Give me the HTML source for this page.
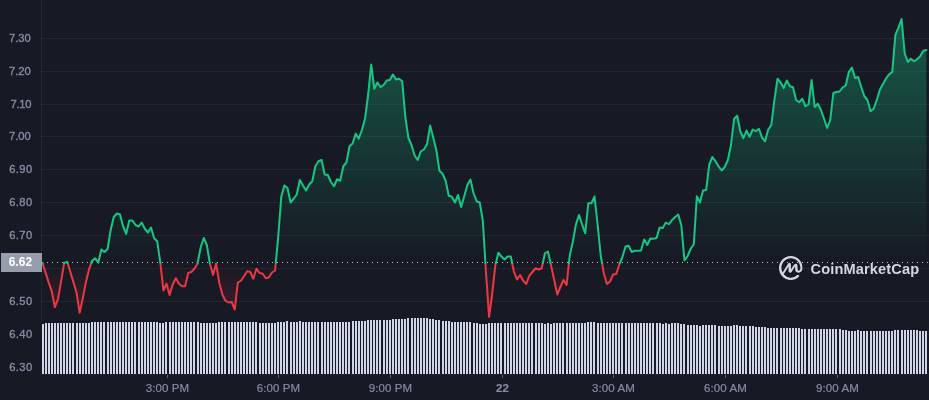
<!DOCTYPE html>
<html lang="en"><head><meta charset="utf-8"><title>Chart</title>
<style>
html,body{margin:0;padding:0;background:#171924;}
body{width:929px;height:400px;overflow:hidden;font-family:"Liberation Sans",Arial,sans-serif;}
svg{display:block}
.yl text{font-size:11.2px;fill:#858ca2;stroke:#858ca2;stroke-width:.35px}
.xl text{font-size:11.5px;fill:#858ca2;stroke:#858ca2;stroke-width:.2px;letter-spacing:.1px}
</style></head><body>
<svg width="929" height="400" viewBox="0 0 929 400" font-family="Liberation Sans, Arial, sans-serif">
<defs>
<linearGradient id="ls" gradientUnits="userSpaceOnUse" x1="0" y1="0" x2="0" y2="400">
<stop offset="0.66000" stop-color="#16c784"/><stop offset="0.66000" stop-color="#ea3943"/>
</linearGradient>
<linearGradient id="af" gradientUnits="userSpaceOnUse" x1="0" y1="0" x2="0" y2="322">
<stop offset="0" stop-color="#16c784" stop-opacity="0.40"/>
<stop offset="0.81522" stop-color="#16c784" stop-opacity="0"/>
<stop offset="0.81522" stop-color="#ea3943" stop-opacity="0"/>
<stop offset="1" stop-color="#ea3943" stop-opacity="0.20"/>
</linearGradient>
</defs>
<rect width="929" height="400" fill="#171924"/>
<path d="M42 324h2V374h-2zM45 323h2V374h-2zM48 323h2V374h-2zM51 323h2V374h-2zM54 323h2V374h-2zM57 323h2V374h-2zM60 323h2V374h-2zM63 323h2V374h-2zM66 323h2V374h-2zM69 323h2V374h-2zM72 323h2V374h-2zM76 323h2V374h-2zM79 323h2V374h-2zM82 323h2V374h-2zM85 323h2V374h-2zM88 323h2V374h-2zM91 322h2V374h-2zM94 322h2V374h-2zM97 322h2V374h-2zM100 322h2V374h-2zM103 322h2V374h-2zM107 322h2V374h-2zM110 322h2V374h-2zM113 322h2V374h-2zM116 322h2V374h-2zM119 322h2V374h-2zM122 322h2V374h-2zM125 322h2V374h-2zM128 322h2V374h-2zM131 322h2V374h-2zM134 322h2V374h-2zM138 322h2V374h-2zM141 322h2V374h-2zM144 322h2V374h-2zM147 322h2V374h-2zM150 322h2V374h-2zM153 322h2V374h-2zM156 322h2V374h-2zM159 323h2V374h-2zM162 323h2V374h-2zM165 322h2V374h-2zM169 322h2V374h-2zM172 322h2V374h-2zM175 322h2V374h-2zM178 322h2V374h-2zM181 322h2V374h-2zM184 322h2V374h-2zM187 322h2V374h-2zM190 322h2V374h-2zM193 322h2V374h-2zM197 322h2V374h-2zM200 323h2V374h-2zM203 323h2V374h-2zM206 323h2V374h-2zM209 323h2V374h-2zM212 323h2V374h-2zM215 323h2V374h-2zM218 322h2V374h-2zM221 322h2V374h-2zM224 322h2V374h-2zM228 322h2V374h-2zM231 322h2V374h-2zM234 322h2V374h-2zM237 322h2V374h-2zM240 322h2V374h-2zM243 322h2V374h-2zM246 322h2V374h-2zM249 322h2V374h-2zM252 322h2V374h-2zM255 322h2V374h-2zM259 323h2V374h-2zM262 323h2V374h-2zM265 323h2V374h-2zM268 323h2V374h-2zM271 323h2V374h-2zM274 323h2V374h-2zM277 322h2V374h-2zM280 322h2V374h-2zM283 322h2V374h-2zM286 321h2V374h-2zM290 322h2V374h-2zM293 322h2V374h-2zM296 322h2V374h-2zM299 321h2V374h-2zM302 322h2V374h-2zM305 322h2V374h-2zM308 322h2V374h-2zM311 322h2V374h-2zM314 322h2V374h-2zM317 322h2V374h-2zM321 322h2V374h-2zM324 322h2V374h-2zM327 322h2V374h-2zM330 322h2V374h-2zM333 322h2V374h-2zM336 322h2V374h-2zM339 322h2V374h-2zM342 322h2V374h-2zM345 322h2V374h-2zM348 322h2V374h-2zM352 321h2V374h-2zM355 321h2V374h-2zM358 321h2V374h-2zM361 321h2V374h-2zM364 321h2V374h-2zM367 320h2V374h-2zM370 320h2V374h-2zM373 320h2V374h-2zM376 320h2V374h-2zM379 320h2V374h-2zM383 320h2V374h-2zM386 320h2V374h-2zM389 320h2V374h-2zM392 319h2V374h-2zM395 319h2V374h-2zM398 319h2V374h-2zM401 319h2V374h-2zM404 319h2V374h-2zM407 318h2V374h-2zM411 318h2V374h-2zM414 318h2V374h-2zM417 318h2V374h-2zM420 318h2V374h-2zM423 318h2V374h-2zM426 318h2V374h-2zM429 319h2V374h-2zM432 319h2V374h-2zM435 320h2V374h-2zM438 320h2V374h-2zM442 321h2V374h-2zM445 321h2V374h-2zM448 321h2V374h-2zM451 322h2V374h-2zM454 322h2V374h-2zM457 322h2V374h-2zM460 322h2V374h-2zM463 322h2V374h-2zM466 322h2V374h-2zM469 322h2V374h-2zM473 323h2V374h-2zM476 323h2V374h-2zM479 324h2V374h-2zM482 324h2V374h-2zM485 324h2V374h-2zM488 323h2V374h-2zM491 323h2V374h-2zM494 323h2V374h-2zM497 323h2V374h-2zM500 323h2V374h-2zM504 323h2V374h-2zM507 323h2V374h-2zM510 323h2V374h-2zM513 323h2V374h-2zM516 323h2V374h-2zM519 323h2V374h-2zM522 323h2V374h-2zM525 323h2V374h-2zM528 323h2V374h-2zM531 323h2V374h-2zM535 323h2V374h-2zM538 323h2V374h-2zM541 323h2V374h-2zM544 324h2V374h-2zM547 323h2V374h-2zM550 324h2V374h-2zM553 323h2V374h-2zM556 323h2V374h-2zM559 323h2V374h-2zM562 323h2V374h-2zM566 323h2V374h-2zM569 323h2V374h-2zM572 323h2V374h-2zM575 323h2V374h-2zM578 323h2V374h-2zM581 323h2V374h-2zM584 323h2V374h-2zM587 322h2V374h-2zM590 322h2V374h-2zM593 322h2V374h-2zM597 323h2V374h-2zM600 323h2V374h-2zM603 323h2V374h-2zM606 323h2V374h-2zM609 323h2V374h-2zM612 323h2V374h-2zM615 323h2V374h-2zM618 323h2V374h-2zM621 323h2V374h-2zM625 323h2V374h-2zM628 323h2V374h-2zM631 323h2V374h-2zM634 323h2V374h-2zM637 323h2V374h-2zM640 323h2V374h-2zM643 323h2V374h-2zM646 323h2V374h-2zM649 323h2V374h-2zM652 323h2V374h-2zM656 323h2V374h-2zM659 323h2V374h-2zM662 324h2V374h-2zM665 323h2V374h-2zM668 324h2V374h-2zM671 323h2V374h-2zM674 323h2V374h-2zM677 323h2V374h-2zM680 324h2V374h-2zM683 324h2V374h-2zM687 325h2V374h-2zM690 325h2V374h-2zM693 325h2V374h-2zM696 325h2V374h-2zM699 326h2V374h-2zM702 325h2V374h-2zM705 325h2V374h-2zM708 325h2V374h-2zM711 325h2V374h-2zM714 325h2V374h-2zM718 326h2V374h-2zM721 326h2V374h-2zM724 326h2V374h-2zM727 326h2V374h-2zM730 326h2V374h-2zM733 325h2V374h-2zM736 325h2V374h-2zM739 326h2V374h-2zM742 326h2V374h-2zM745 326h2V374h-2zM749 326h2V374h-2zM752 326h2V374h-2zM755 327h2V374h-2zM758 327h2V374h-2zM761 327h2V374h-2zM764 327h2V374h-2zM767 328h2V374h-2zM770 328h2V374h-2zM773 328h2V374h-2zM776 328h2V374h-2zM780 328h2V374h-2zM783 328h2V374h-2zM786 328h2V374h-2zM789 328h2V374h-2zM792 328h2V374h-2zM795 328h2V374h-2zM798 328h2V374h-2zM801 329h2V374h-2zM804 329h2V374h-2zM808 329h2V374h-2zM811 329h2V374h-2zM814 329h2V374h-2zM817 329h2V374h-2zM820 329h2V374h-2zM823 329h2V374h-2zM826 329h2V374h-2zM829 329h2V374h-2zM832 329h2V374h-2zM835 329h2V374h-2zM839 329h2V374h-2zM842 330h2V374h-2zM845 330h2V374h-2zM848 331h2V374h-2zM851 331h2V374h-2zM854 331h2V374h-2zM857 330h2V374h-2zM860 331h2V374h-2zM863 331h2V374h-2zM866 331h2V374h-2zM870 331h2V374h-2zM873 331h2V374h-2zM876 331h2V374h-2zM879 331h2V374h-2zM882 331h2V374h-2zM885 331h2V374h-2zM888 331h2V374h-2zM891 331h2V374h-2zM894 330h2V374h-2zM897 330h2V374h-2zM901 330h2V374h-2zM904 330h2V374h-2zM907 330h2V374h-2zM910 330h2V374h-2zM913 330h2V374h-2zM916 330h2V374h-2zM919 331h2V374h-2zM922 331h2V374h-2zM925 331h2V374h-2z" fill="#d0d6e7"/>
<g stroke="#858ca2" stroke-opacity="0.115" stroke-width="1" shape-rendering="crispEdges"><line x1="41" x2="929" y1="38.5" y2="38.5"/><line x1="41" x2="929" y1="71.5" y2="71.5"/><line x1="41" x2="929" y1="104.5" y2="104.5"/><line x1="41" x2="929" y1="136.5" y2="136.5"/><line x1="41" x2="929" y1="169.5" y2="169.5"/><line x1="41" x2="929" y1="202.5" y2="202.5"/><line x1="41" x2="929" y1="235.5" y2="235.5"/><line x1="41" x2="929" y1="268.5" y2="268.5"/><line x1="41" x2="929" y1="301.5" y2="301.5"/><line x1="41" x2="929" y1="334.5" y2="334.5"/><line x1="41" x2="929" y1="367.5" y2="367.5"/><line x1="41.5" x2="41.5" y1="0" y2="323"/></g>
<line x1="41" x2="929" y1="374.5" y2="374.5" stroke="#858ca2" stroke-opacity="0.07"/>
<path d="M42.45 262.9 L45.55 272.8 L48.65 282.4 L51.75 291.2 L54.86 307.2 L57.96 299.2 L61.06 281.6 L64.16 262.9 L67.26 261.9 L70.36 272 L73.47 282.4 L76.57 292.8 L79.67 312.8 L82.77 298.4 L85.87 282.4 L88.97 269.6 L92.07 260.8 L95.18 258.4 L98.28 262.7 L101.38 249.5 L104.48 252 L107.58 249 L110.68 230 L113.78 217 L116.89 213.5 L119.99 214.5 L123.09 226.25 L126.19 233.75 L129.29 220.5 L132.39 220.5 L135.5 225 L138.6 226.5 L141.7 222.5 L144.8 228.75 L147.9 232.5 L151 227.5 L154.1 238.25 L157.21 241.25 L160.31 262.5 L163.41 290.5 L166.51 283.75 L169.61 295 L172.71 284.5 L175.81 278.25 L178.92 283.75 L182.02 286.25 L185.12 286.25 L188.22 273 L191.32 272 L194.42 268.75 L197.53 263.75 L200.63 247.5 L203.73 238 L206.83 245 L209.93 263.75 L213.03 275 L216.13 263.75 L219.24 282.5 L222.34 294.5 L225.44 300.75 L228.54 302.5 L231.64 302 L234.74 309.5 L237.84 282.5 L240.95 280.75 L244.05 276.25 L247.15 271.25 L250.25 272 L253.35 278.75 L256.45 268.75 L259.56 273 L262.66 273.75 L265.76 278.25 L268.86 277.5 L271.96 272.5 L275.06 270.5 L278.16 237.5 L281.27 196.8 L284.37 185.5 L287.47 188 L290.57 202.5 L293.67 198.75 L296.77 194.5 L299.87 180 L302.98 185.5 L306.08 190.5 L309.18 184.5 L312.28 181.25 L315.38 166.25 L318.48 161.25 L321.58 160 L324.69 174.5 L327.79 175 L330.89 182 L333.99 186.25 L337.09 179.25 L340.19 180.75 L343.3 166.25 L346.4 162.5 L349.5 146.25 L352.6 143.5 L355.7 133.75 L358.8 138.75 L361.9 130 L365.01 118.75 L368.11 95 L371.21 64.5 L374.31 88.75 L377.41 82.5 L380.51 87 L383.62 85 L386.72 80.5 L389.82 80 L392.92 74.5 L396.02 79.5 L399.12 78.75 L402.22 81.25 L405.33 117 L408.43 138 L411.53 145 L414.63 155.5 L417.73 160 L420.83 151.25 L423.93 149.5 L427.04 144 L430.14 125.6 L433.24 137.5 L436.34 150 L439.44 170.75 L442.54 173.75 L445.64 180.75 L448.75 195.75 L451.85 196.75 L454.95 202.5 L458.05 195 L461.15 207 L464.25 196.25 L467.36 185 L470.46 179.5 L473.56 193.25 L476.66 201.25 L479.76 202.5 L482.86 221 L485.96 272 L489.07 317 L492.17 294.5 L495.27 265.75 L498.37 252.75 L501.47 256.5 L504.57 259.5 L507.68 256.5 L510.78 256.5 L513.88 271.5 L516.98 279.5 L520.08 275 L523.18 280.75 L526.28 284 L529.39 275.75 L532.49 272 L535.59 268.25 L538.69 269.5 L541.79 268.25 L544.89 253.25 L547.99 251.5 L551.1 265.75 L554.2 280 L557.3 294.5 L560.4 287 L563.5 280 L566.6 285 L569.71 255.75 L572.81 242 L575.91 224.5 L579.01 215 L582.11 224.5 L585.21 233.25 L588.31 203.25 L591.42 203.25 L594.52 196.5 L597.62 224.5 L600.72 255.75 L603.82 273.25 L606.92 284 L610.02 281.5 L613.13 274.5 L616.23 274 L619.33 264.5 L622.43 257 L625.53 246.5 L628.63 245.75 L631.74 252 L634.84 250.75 L637.94 250.75 L641.04 250.4 L644.14 239.5 L647.24 245 L650.34 238.5 L653.45 238.75 L656.55 238 L659.65 227.5 L662.75 228 L665.85 222.5 L668.95 224.25 L672.05 220 L675.16 217 L678.26 214.5 L681.36 225.5 L684.46 260.5 L687.56 256.25 L690.66 248.75 L693.77 244.5 L696.87 196.25 L699.97 202.5 L703.07 190.5 L706.17 190 L709.27 164.5 L712.37 157 L715.48 161.25 L718.58 166.25 L721.68 170.5 L724.78 167 L727.88 160 L730.98 145 L734.08 118.75 L737.19 115.75 L740.29 131.25 L743.39 138.25 L746.49 130.5 L749.59 136.75 L752.69 129.5 L755.8 131.25 L758.9 128.75 L762 137.5 L765.1 141.25 L768.2 129.5 L771.3 125 L774.4 100 L777.51 78.75 L780.61 82.5 L783.71 88 L786.81 80.5 L789.91 86.25 L793.01 87.25 L796.11 100 L799.22 102.25 L802.32 98.75 L805.42 106.25 L808.52 104.5 L811.62 80 L814.72 107 L817.83 103.75 L820.93 110 L824.03 118.75 L827.13 128 L830.23 120 L833.33 93 L836.43 92 L839.54 91.5 L842.64 87.5 L845.74 85.5 L848.84 72 L851.94 67.5 L855.04 78 L858.14 77 L861.25 87 L864.35 96.25 L867.45 100 L870.55 111.25 L873.65 108.75 L876.75 100 L879.86 89.75 L882.96 84 L886.06 78.4 L889.16 74.4 L892.26 72 L895.36 35.2 L898.46 27.5 L901.57 19 L904.67 53.25 L907.77 62 L910.87 58.75 L913.97 61.25 L917.07 59.25 L920.17 56.25 L923.28 50.75 L926.38 50 L926.38 262.5 L42.45 262.5 Z" fill="url(#af)"/>
<line x1="42" x2="929" y1="262.5" y2="262.5" stroke="#c4c8d6" stroke-width="1" stroke-dasharray="1 4" shape-rendering="crispEdges"/>
<path d="M42.45 262.9 L45.55 272.8 L48.65 282.4 L51.75 291.2 L54.86 307.2 L57.96 299.2 L61.06 281.6 L64.16 262.9 L67.26 261.9 L70.36 272 L73.47 282.4 L76.57 292.8 L79.67 312.8 L82.77 298.4 L85.87 282.4 L88.97 269.6 L92.07 260.8 L95.18 258.4 L98.28 262.7 L101.38 249.5 L104.48 252 L107.58 249 L110.68 230 L113.78 217 L116.89 213.5 L119.99 214.5 L123.09 226.25 L126.19 233.75 L129.29 220.5 L132.39 220.5 L135.5 225 L138.6 226.5 L141.7 222.5 L144.8 228.75 L147.9 232.5 L151 227.5 L154.1 238.25 L157.21 241.25 L160.31 262.5 L163.41 290.5 L166.51 283.75 L169.61 295 L172.71 284.5 L175.81 278.25 L178.92 283.75 L182.02 286.25 L185.12 286.25 L188.22 273 L191.32 272 L194.42 268.75 L197.53 263.75 L200.63 247.5 L203.73 238 L206.83 245 L209.93 263.75 L213.03 275 L216.13 263.75 L219.24 282.5 L222.34 294.5 L225.44 300.75 L228.54 302.5 L231.64 302 L234.74 309.5 L237.84 282.5 L240.95 280.75 L244.05 276.25 L247.15 271.25 L250.25 272 L253.35 278.75 L256.45 268.75 L259.56 273 L262.66 273.75 L265.76 278.25 L268.86 277.5 L271.96 272.5 L275.06 270.5 L278.16 237.5 L281.27 196.8 L284.37 185.5 L287.47 188 L290.57 202.5 L293.67 198.75 L296.77 194.5 L299.87 180 L302.98 185.5 L306.08 190.5 L309.18 184.5 L312.28 181.25 L315.38 166.25 L318.48 161.25 L321.58 160 L324.69 174.5 L327.79 175 L330.89 182 L333.99 186.25 L337.09 179.25 L340.19 180.75 L343.3 166.25 L346.4 162.5 L349.5 146.25 L352.6 143.5 L355.7 133.75 L358.8 138.75 L361.9 130 L365.01 118.75 L368.11 95 L371.21 64.5 L374.31 88.75 L377.41 82.5 L380.51 87 L383.62 85 L386.72 80.5 L389.82 80 L392.92 74.5 L396.02 79.5 L399.12 78.75 L402.22 81.25 L405.33 117 L408.43 138 L411.53 145 L414.63 155.5 L417.73 160 L420.83 151.25 L423.93 149.5 L427.04 144 L430.14 125.6 L433.24 137.5 L436.34 150 L439.44 170.75 L442.54 173.75 L445.64 180.75 L448.75 195.75 L451.85 196.75 L454.95 202.5 L458.05 195 L461.15 207 L464.25 196.25 L467.36 185 L470.46 179.5 L473.56 193.25 L476.66 201.25 L479.76 202.5 L482.86 221 L485.96 272 L489.07 317 L492.17 294.5 L495.27 265.75 L498.37 252.75 L501.47 256.5 L504.57 259.5 L507.68 256.5 L510.78 256.5 L513.88 271.5 L516.98 279.5 L520.08 275 L523.18 280.75 L526.28 284 L529.39 275.75 L532.49 272 L535.59 268.25 L538.69 269.5 L541.79 268.25 L544.89 253.25 L547.99 251.5 L551.1 265.75 L554.2 280 L557.3 294.5 L560.4 287 L563.5 280 L566.6 285 L569.71 255.75 L572.81 242 L575.91 224.5 L579.01 215 L582.11 224.5 L585.21 233.25 L588.31 203.25 L591.42 203.25 L594.52 196.5 L597.62 224.5 L600.72 255.75 L603.82 273.25 L606.92 284 L610.02 281.5 L613.13 274.5 L616.23 274 L619.33 264.5 L622.43 257 L625.53 246.5 L628.63 245.75 L631.74 252 L634.84 250.75 L637.94 250.75 L641.04 250.4 L644.14 239.5 L647.24 245 L650.34 238.5 L653.45 238.75 L656.55 238 L659.65 227.5 L662.75 228 L665.85 222.5 L668.95 224.25 L672.05 220 L675.16 217 L678.26 214.5 L681.36 225.5 L684.46 260.5 L687.56 256.25 L690.66 248.75 L693.77 244.5 L696.87 196.25 L699.97 202.5 L703.07 190.5 L706.17 190 L709.27 164.5 L712.37 157 L715.48 161.25 L718.58 166.25 L721.68 170.5 L724.78 167 L727.88 160 L730.98 145 L734.08 118.75 L737.19 115.75 L740.29 131.25 L743.39 138.25 L746.49 130.5 L749.59 136.75 L752.69 129.5 L755.8 131.25 L758.9 128.75 L762 137.5 L765.1 141.25 L768.2 129.5 L771.3 125 L774.4 100 L777.51 78.75 L780.61 82.5 L783.71 88 L786.81 80.5 L789.91 86.25 L793.01 87.25 L796.11 100 L799.22 102.25 L802.32 98.75 L805.42 106.25 L808.52 104.5 L811.62 80 L814.72 107 L817.83 103.75 L820.93 110 L824.03 118.75 L827.13 128 L830.23 120 L833.33 93 L836.43 92 L839.54 91.5 L842.64 87.5 L845.74 85.5 L848.84 72 L851.94 67.5 L855.04 78 L858.14 77 L861.25 87 L864.35 96.25 L867.45 100 L870.55 111.25 L873.65 108.75 L876.75 100 L879.86 89.75 L882.96 84 L886.06 78.4 L889.16 74.4 L892.26 72 L895.36 35.2 L898.46 27.5 L901.57 19 L904.67 53.25 L907.77 62 L910.87 58.75 L913.97 61.25 L917.07 59.25 L920.17 56.25 L923.28 50.75 L926.38 50" fill="none" stroke="url(#ls)" stroke-width="2" stroke-linejoin="round" stroke-linecap="round"/>
<g class="yl"><text x="19.9" y="42.2" text-anchor="middle">7.30</text><text x="19.9" y="75.2" text-anchor="middle">7.20</text><text x="20.9" y="108.2" text-anchor="middle" letter-spacing="-0.2">7.10</text><text x="19.9" y="140.2" text-anchor="middle">7.00</text><text x="20.9" y="173.2" text-anchor="middle" letter-spacing="0.35">6.90</text><text x="20.9" y="206.2" text-anchor="middle" letter-spacing="0.35">6.80</text><text x="20.9" y="239.2" text-anchor="middle" letter-spacing="0.35">6.70</text><text x="20.9" y="305.2" text-anchor="middle" letter-spacing="0.35">6.50</text><text x="20.9" y="338.2" text-anchor="middle" letter-spacing="0.35">6.40</text><text x="20.9" y="371.2" text-anchor="middle" letter-spacing="0.35">6.30</text></g>
<g stroke="#858ca2" stroke-opacity="0.6" stroke-width="1"><line x1="167.5" x2="167.5" y1="375" y2="378"/><line x1="278.5" x2="278.5" y1="375" y2="378"/><line x1="390.5" x2="390.5" y1="375" y2="378"/><line x1="502.5" x2="502.5" y1="375" y2="378"/><line x1="613.5" x2="613.5" y1="375" y2="378"/><line x1="725.5" x2="725.5" y1="375" y2="378"/><line x1="837.5" x2="837.5" y1="375" y2="378"/></g>
<g class="xl"><text x="167.5" y="392.3" text-anchor="middle">3:00 PM</text><text x="278.5" y="392.3" text-anchor="middle">6:00 PM</text><text x="390.5" y="392.3" text-anchor="middle">9:00 PM</text><text x="502.5" y="392.3" text-anchor="middle" font-weight="bold" fill="#e0e3ee">22</text><text x="613.5" y="392.3" text-anchor="middle">3:00 AM</text><text x="725.5" y="392.3" text-anchor="middle">6:00 AM</text><text x="837.5" y="392.3" text-anchor="middle">9:00 AM</text></g>
<rect x="1" y="253" width="41" height="19" fill="#989dad"/>
<text x="20.4" y="266.3" text-anchor="middle" font-size="12" font-weight="bold" fill="#ffffff">6.62</text>
<g fill="#d3d6e3">
<svg x="779" y="256" width="23.6" height="24" viewBox="0 0 76.52 77.67"><path d="M66.54 46.41a4.09 4.09 0 0 1-4.17.28c-1.54-.87-2.37-2.91-2.37-5.69v-8.52c0-4-1.59-6.860-4.250-7.630-4.490-1.310-7.850 4.190-9.150 6.260l-7.940 12.870V28.310c-.09-3.630-1.270-5.800-3.510-6.450-1.480-.43-3.700-.26-5.860 3.040L11.500 53.500a32 32 0 0 1-3.670-14.830c0-17.250 13.800-31.280 30.760-31.280s30.770 14.030 30.770 31.280v.18c.17 3.340-.92 6-2.820 7.560zm10-7.570v-.17C76.400 17.320 59.280 0 38.250 0S0 17.400 0 38.830s17.160 38.840 38.250 38.840a37.810 37.810 0 0 0 25.900-10.290 3.720 3.720 0 0 0 .21-5.240 3.650 3.650 0 0 0-5.130-.28l-.06.05a30.410 30.410 0 0 1-44.170-2.410l15.900-25.480v11.750c0 5.640 2.190 7.470 4.030 8s4.650.17 7.600-4.620l8.740-14.120a8.320 8.320 0 0 1 .85-1.220v7.190c0 5.270 2.110 9.480 5.790 11.550a11.610 11.610 0 0 0 11.790-.46c4.680-2.970 7.120-8.270 6.870-14.250z"/></svg>
<text x="810.5" y="274.2" font-size="14.6" font-weight="bold" letter-spacing="0.14">CoinMarketCap</text>
</g>
</svg>
</body></html>
